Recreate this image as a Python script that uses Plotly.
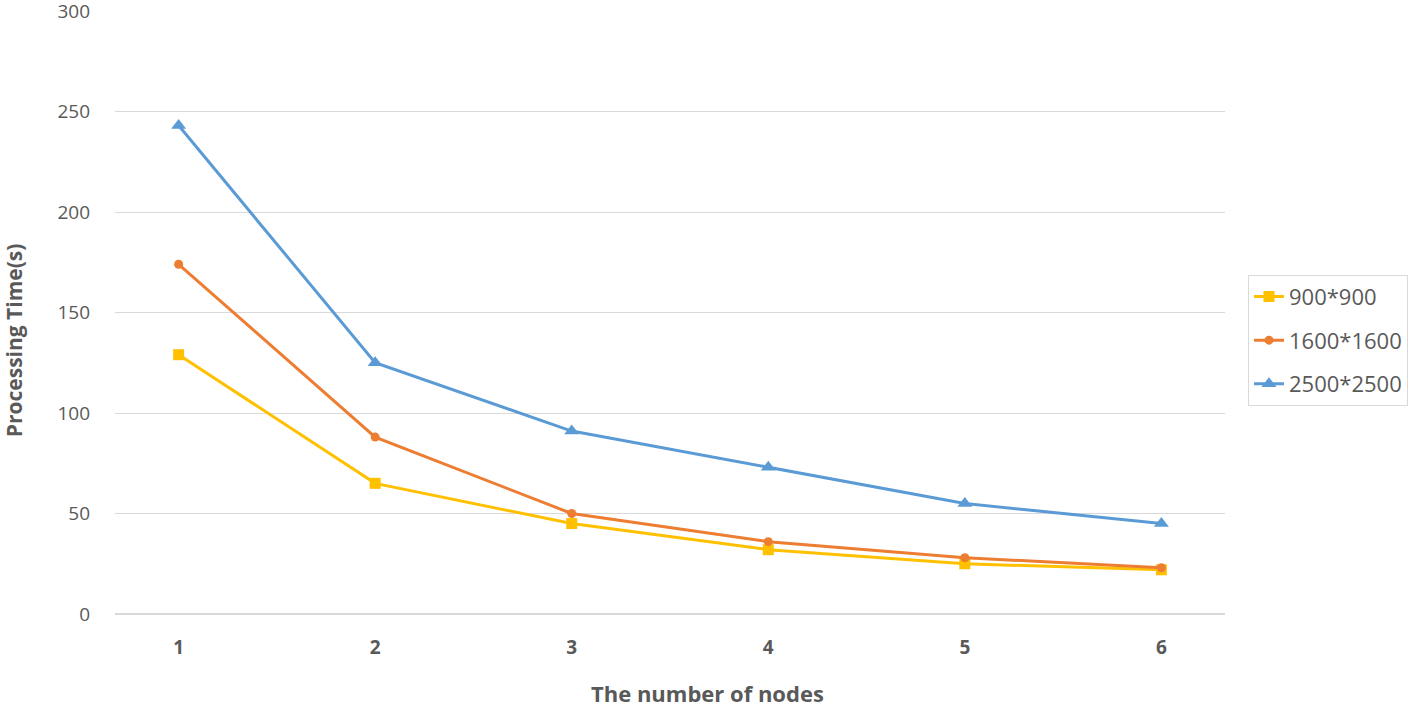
import plotly.graph_objects as go

# ── Data ──────────────────────────────────────────────────────────────────────
nodes = ["1", "2", "3", "4", "5", "6"]
t_900 = [129, 65, 45, 32, 25, 22]
t_1600 = [174, 88, 50, 36, 28, 23]
t_2500 = [243, 125, 91, 73, 55, 45]

series = [
    ("900*900", t_900, "#FFC000", "square", 11),
    ("1600*1600", t_1600, "#ED7D31", "circle", 9),
    ("2500*2500", t_2500, "#5B9BD5", "triangle-up", 13),
]

fig = go.Figure()
for name, vals, color, sym, size in series:
    fig.add_trace(go.Scatter(
        x=nodes, y=vals, name=name, legendgroup=name, mode="lines+markers",
        line=dict(color=color, width=3),
        marker=dict(symbol=sym, size=size, color=color),
    ))

# axis titles centred on the chart area (Excel style), not on the plot area
fig.add_annotation(
    text="<b>Processing Time(s)</b>", textangle=-90,
    xref="paper", yref="paper", x=-0.091, y=0.454,
    xanchor="center", yanchor="middle", showarrow=False,
    font=dict(size=21, color="#595959"),
)
fig.add_annotation(
    text="<b>The number of nodes</b>",
    xref="paper", yref="paper", x=0.534, y=-0.131,
    xanchor="center", yanchor="middle", showarrow=False,
    font=dict(size=22, color="#595959"),
)

fig.update_layout(
    width=1418, height=707,
    paper_bgcolor="white", plot_bgcolor="white",
    font=dict(family="Open Sans, sans-serif", color="#595959", size=19),
    margin=dict(l=115, r=193, t=11, b=93, autoexpand=False),
    legend=dict(
        x=1.0207, xanchor="left", y=0.454, yanchor="middle",
        bordercolor="#D9D9D9", borderwidth=1,
        font=dict(size=22, color="#595959"),
        itemwidth=30, tracegroupgap=12,
    ),
    xaxis=dict(
        type="category", showgrid=False, showline=False, zeroline=False,
        automargin=False,
        tickfont=dict(size=19, color="#595959", weight="bold"),
        ticklabelstandoff=20,
    ),
    yaxis=dict(
        range=[0, 300], dtick=50, showgrid=True, gridcolor="#D9D9D9", gridwidth=1,
        zeroline=True, zerolinecolor="#D9D9D9", showline=False,
        automargin=False, ticklabeloverflow="allow",
        tickfont=dict(size=19, color="#595959"),
        ticklabelstandoff=24,
    ),
)

# drop the default 8px body margin so the figure fills the window exactly
fig.write_html(
    "out.html",
    config={"displayModeBar": False},
    post_script="document.body.style.margin='0px';",
)
